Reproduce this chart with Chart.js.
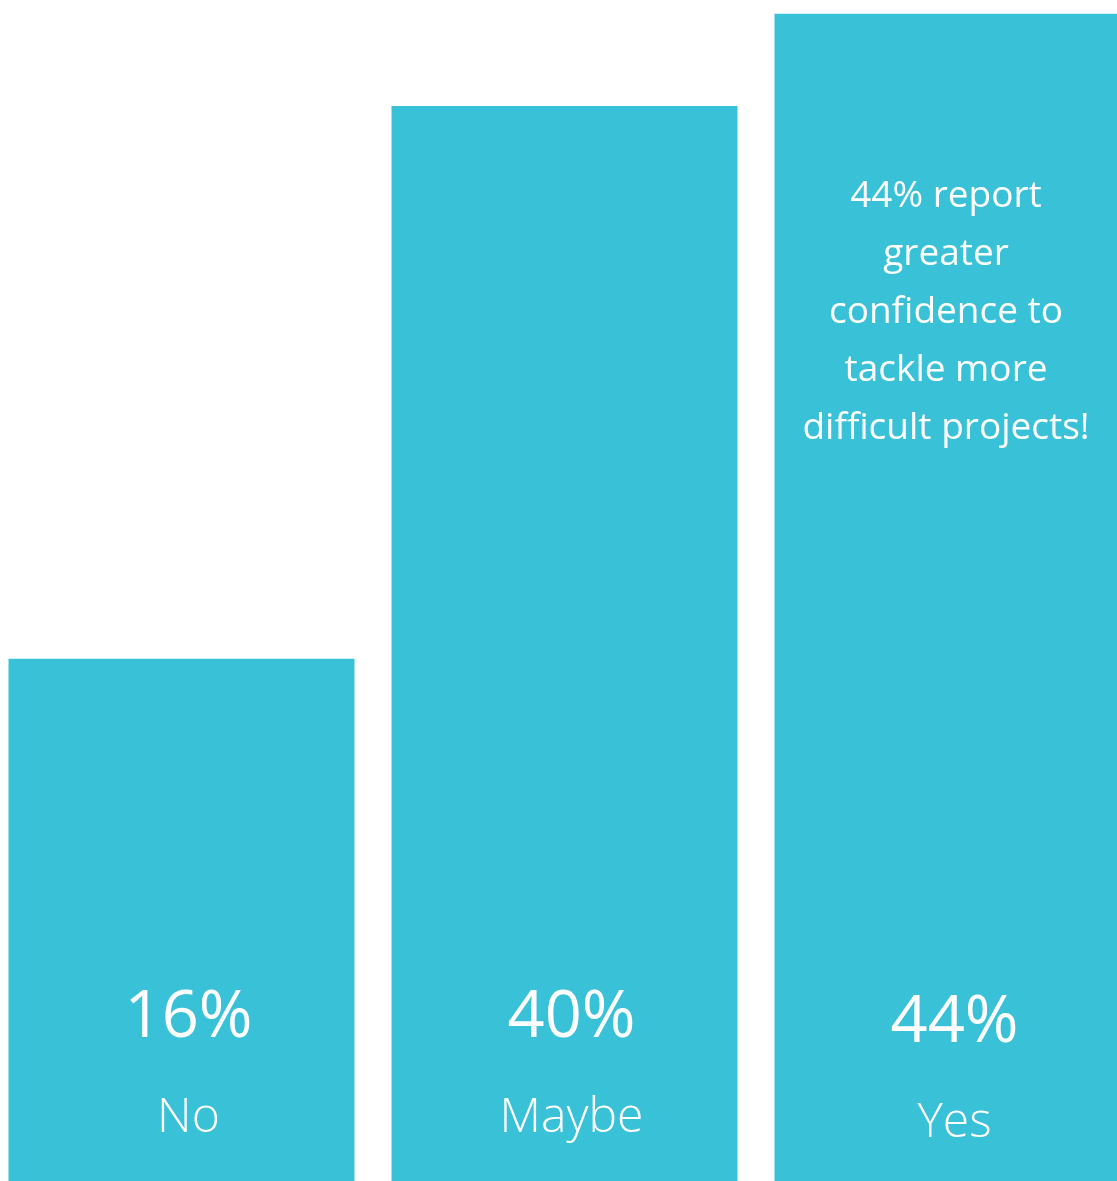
<!DOCTYPE html>
<html>
<head>
<meta charset="utf-8">
<script src="https://cdn.jsdelivr.net/npm/chart.js@4/dist/chart.umd.min.js"></script>
<style>
  html, body { margin: 0; padding: 0; background: #ffffff; overflow: hidden; }
  #wrap { position: absolute; left: -10px; top: 0; width: 1149px; height: 1181px; }
</style>
</head>
<body>
<div id="wrap"><canvas id="chart"></canvas></div>
<script>
// Survey answers and their shares (percent)
const categories = ['No', 'Maybe', 'Yes'];
const shares = [16, 40, 44];
// Callout printed inside the "Yes" column
const calloutCategory = 'Yes';
const calloutLines = ['44% report', 'greater', 'confidence to', 'tackle more', 'difficult projects!'];

// Value axis floor: columns rise from here rather than from zero
const axisFloor = -6.67;
const axisCeil = 44.6;

const barColor = '#38c1d7';
const fontFamily = '"Open Sans", "Noto Sans", sans-serif';

const columnLabels = {
  id: 'columnLabels',
  afterDatasetsDraw(chart) {
    const { ctx, chartArea } = chart;
    const bars = chart.getDatasetMeta(0).data;
    ctx.save();
    ctx.fillStyle = '#ffffff';
    ctx.textAlign = 'center';
    ctx.textBaseline = 'alphabetic';
    bars.forEach((bar, i) => {
      const cx = bar.x + 7;
      const drop = categories[i] === calloutCategory ? 5 : 0;
      ctx.font = '400 65px ' + fontFamily;
      ctx.fillText(shares[i] + '%', cx, chartArea.bottom - 144 + drop);
      ctx.font = '300 48px ' + fontFamily;
      ctx.fillText(categories[i], cx, chartArea.bottom - 49 + drop);
      if (categories[i] === calloutCategory) {
        ctx.font = '500 37px ' + fontFamily;
        calloutLines.forEach((line, k) => {
          ctx.fillText(line, bar.x - 1.5, chartArea.top + 207 + k * 58);
        });
      }
    });
    ctx.restore();
  }
};

new Chart(document.getElementById('chart'), {
  type: 'bar',
  data: {
    labels: categories,
    datasets: [{
      data: shares,
      base: axisFloor,
      backgroundColor: barColor,
      borderWidth: 0,
      categoryPercentage: 1,
      barPercentage: 0.9034
    }]
  },
  options: {
    responsive: true,
    maintainAspectRatio: false,
    animation: false,
    layout: { padding: 0 },
    plugins: { legend: { display: false }, tooltip: { enabled: false } },
    scales: {
      x: { display: false, grid: { display: false } },
      y: { display: false, min: axisFloor, max: axisCeil, grid: { display: false } }
    }
  },
  plugins: [columnLabels]
});
</script>
</body>
</html>
